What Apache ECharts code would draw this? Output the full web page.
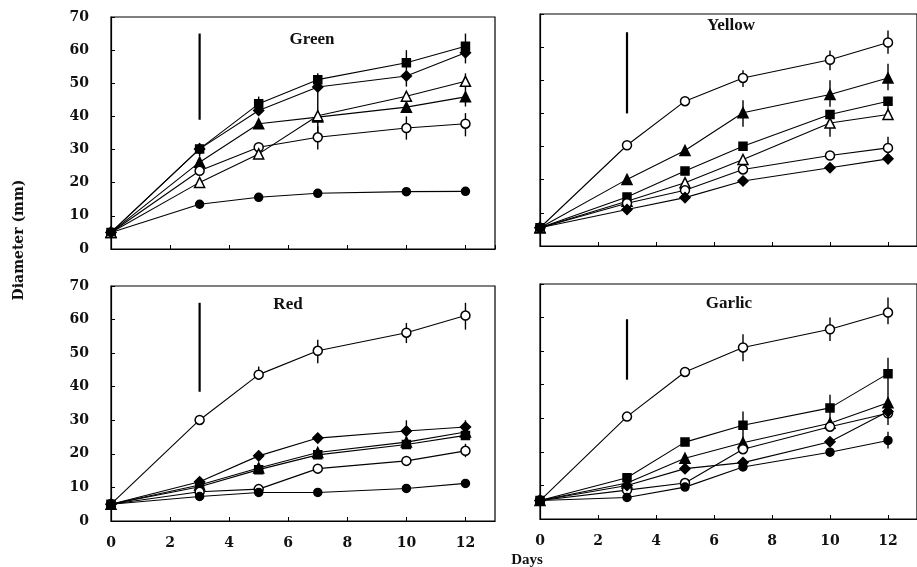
<!DOCTYPE html>
<html><head><meta charset="utf-8">
<script src="https://cdn.jsdelivr.net/npm/echarts@6/dist/echarts.min.js"></script>
<style>html,body{margin:0;padding:0;background:#fff}#c{width:917px;height:567px}</style>
</head><body><div id="c"></div>
<script>
// ---- data ----
const days = [0, 3, 5, 7, 10, 12];
const panelNames = ['Green', 'Yellow', 'Red', 'Garlic'];

const greenSquare       = [5, 30.2, 43.8, 51.1, 56.2, 61.2];
const greenDiamond      = [5, 30.2, 41.8, 48.9, 52.2, 59.2];
const greenFilledTri    = [5, 26.2, 37.8, 39.8, 42.8, 45.9];
const greenOpenCircle   = [5, 23.6, 30.7, 33.7, 36.5, 37.8];
const greenOpenTri      = [5, 20.1, 28.7, 40.2, 46.1, 50.6];
const greenFilledCircle = [5, 13.5, 15.6, 16.8, 17.3, 17.4];

const yellowOpenCircleTop = [5.5, 30.4, 43.7, 50.7, 56.2, 61.4];
const yellowFilledTri     = [5.5, 20.1, 28.8, 40.2, 45.7, 50.7];
const yellowSquare        = [5.5, 14.8, 22.6, 30.1, 39.7, 43.7];
const yellowOpenTri       = [5.5, 13.5, 19.1, 26.1, 37.1, 39.7];
const yellowOpenCircle    = [5.5, 12.9, 16.8, 23.1, 27.3, 29.6];
const yellowDiamond       = [5.5, 11.0, 14.6, 19.6, 23.6, 26.3];

const redOpenCircleTop = [5, 30.1, 43.6, 50.7, 56.1, 61.2];
const redDiamond       = [5, 11.7, 19.4, 24.7, 26.8, 28.0];
const redFilledTri     = [5, 10.7, 15.8, 20.4, 23.5, 26.5];
const redSquare        = [5, 10.2, 15.3, 19.7, 22.8, 25.5];
const redOpenCircle    = [5, 8.7, 9.5, 15.6, 17.9, 20.9];
const redFilledCircle  = [5, 7.3, 8.5, 8.5, 9.7, 11.2];

const garlicOpenCircleTop = [5.5, 30.5, 43.8, 51.1, 56.5, 61.5];
const garlicSquare        = [5.5, 12.3, 22.9, 27.9, 33.1, 43.3];
const garlicFilledTri     = [5.5, 10.7, 18.1, 22.7, 28.5, 34.6];
const garlicOpenCircle    = [5.5, 8.6, 10.7, 20.8, 27.5, 31.5];
const garlicDiamond       = [5.5, 10.0, 15.0, 16.8, 23.0, 32.0];
const garlicFilledCircle  = [5.5, 6.4, 9.5, 15.5, 19.9, 23.4];

// error bars: [day, low, high]
const greenErr  = [[3,28,32],[5,41,46],[7,35,53],[7,30,37],[10,49,60],[10,33,40],[12,56,65],[12,43,53],[12,34,41]];
const yellowErr = [[7,48,53],[10,53,59],[12,58,65],[7,36,44],[10,42,50],[12,47,55],[10,33,41],[12,38,45],[12,28,33]];
const redErr    = [[5,42,46],[7,47,54],[10,53,59],[12,57,65],[10,24,30],[12,25,30],[12,19,23]];
const garlicErr = [[7,47,55],[10,53,60],[12,58,66],[7,24,32],[10,29,37],[12,34,48],[12,28,35],[12,21,26]];

// treatment marker bars at day 3: [day, low, high]
const greenBar  = [[3, 39, 65]];
const yellowBar = [[3, 40, 64.5]];
const redBar    = [[3, 38.5, 65]];
const garlicBar = [[3, 41.5, 59.5]];

const yTicks = [0, 10, 20, 30, 40, 50, 60, 70];
const xTicks = [0, 2, 4, 6, 8, 10, 12];

// ---- styles ----
const MARK = {
  oc: {symbol: 'circle',   fill: '#fff', size: 9},
  fc: {symbol: 'circle',   fill: '#000', size: 8},
  ot: {symbol: 'triangle', fill: '#fff', size: 10},
  ft: {symbol: 'triangle', fill: '#000', size: 10},
  sq: {symbol: 'rect',     fill: '#000', size: 8},
  di: {symbol: 'diamond',  fill: '#000', size: 10}
};

const panels = [
  {series: [['sq', greenSquare], ['di', greenDiamond], ['ft', greenFilledTri], ['oc', greenOpenCircle], ['ot', greenOpenTri], ['fc', greenFilledCircle]], err: greenErr, bar: greenBar},
  {series: [['oc', yellowOpenCircleTop], ['ft', yellowFilledTri], ['sq', yellowSquare], ['ot', yellowOpenTri], ['oc', yellowOpenCircle], ['di', yellowDiamond]], err: yellowErr, bar: yellowBar},
  {series: [['oc', redOpenCircleTop], ['di', redDiamond], ['ft', redFilledTri], ['sq', redSquare], ['oc', redOpenCircle], ['fc', redFilledCircle]], err: redErr, bar: redBar},
  {series: [['oc', garlicOpenCircleTop], ['sq', garlicSquare], ['ft', garlicFilledTri], ['oc', garlicOpenCircle], ['di', garlicDiamond], ['fc', garlicFilledCircle]], err: garlicErr, bar: garlicBar}
];

const gridPos = [
  {left: 111, top: 17,  width: 384, height: 232},
  {left: 540, top: 14,  width: 384, height: 232},
  {left: 111, top: 286, width: 384, height: 235},
  {left: 540, top: 284, width: 384, height: 235}
];
const titlePos = [[312, 40], [731, 26], [288, 305], [729, 304]];

const SERIF = 'Liberation Serif, Times New Roman, serif';
const TICKFONT = 'DejaVu Serif, serif';
const labelStyle = {color: '#111', fontFamily: TICKFONT, fontWeight: 'bold', fontSize: 14};

const grids = [], xAxes = [], yAxes = [], series = [], graphics = [];

function vbar(g, data, width) {
  return {
    type: 'custom', xAxisIndex: g, yAxisIndex: g, data: data, z: 1, silent: true,
    renderItem: function (params, api) {
      const p1 = api.coord([api.value(0), api.value(1)]);
      const p2 = api.coord([api.value(0), api.value(2)]);
      return {type: 'line', shape: {x1: p1[0], y1: p1[1], x2: p2[0], y2: p2[1]},
              style: {stroke: '#000', lineWidth: width}};
    }
  };
}

panels.forEach((p, g) => {
  grids.push(Object.assign({show: true, borderColor: '#000', borderWidth: 1.2, containLabel: false}, gridPos[g]));
  const bottom = g >= 2, left = g % 2 === 0;
  xAxes.push({
    gridIndex: g, type: 'value', min: 0, max: 13, interval: 2,
    axisLine: {show: true, lineStyle: {color: '#000', width: 1.2}},
    axisTick: {show: true, inside: true, length: 4, lineStyle: {color: '#000'}},
    axisLabel: Object.assign({show: bottom, margin: 15, showMaxLabel: false,
      formatter: v => (xTicks.indexOf(v) >= 0 ? String(v) : '')}, labelStyle),
    splitLine: {show: false}
  });
  yAxes.push({
    gridIndex: g, type: 'value', min: 0, max: 70, interval: 10,
    axisLine: {show: true, lineStyle: {color: '#000', width: 1.2}},
    axisTick: {show: true, inside: true, length: 4, lineStyle: {color: '#000'}},
    axisLabel: Object.assign({show: left, margin: 22,
      formatter: v => (yTicks.indexOf(v) >= 0 ? String(v) : '')}, labelStyle),
    splitLine: {show: false}
  });
  p.series.forEach(([key, vals]) => {
    const m = MARK[key];
    series.push({
      type: 'line', xAxisIndex: g, yAxisIndex: g,
      data: days.map((d, i) => [d, vals[i]]),
      symbol: m.symbol, symbolSize: m.size, showAllSymbol: true,
      itemStyle: {color: m.fill, borderColor: '#000', borderWidth: 1.5},
      lineStyle: {color: '#000', width: 1.1},
      z: 3, silent: true, animation: false
    });
  });
  series.push(vbar(g, p.err, 1.4));
  series.push(vbar(g, p.bar, 2.2));
  graphics.push({type: 'text', x: titlePos[g][0], y: titlePos[g][1],
    style: {text: panelNames[g], fill: '#111', font: 'bold 17px ' + SERIF, textAlign: 'center', textVerticalAlign: 'middle'}});
});

graphics.push({type: 'text', x: 19, y: 240, rotation: Math.PI / 2,
  style: {text: 'Diameter (mm)', fill: '#111', font: 'bold 14px ' + TICKFONT, textAlign: 'center', textVerticalAlign: 'middle'}});
graphics.push({type: 'text', x: 527, y: 560,
  style: {text: 'Days', fill: '#111', font: 'bold 15px ' + SERIF, textAlign: 'center', textVerticalAlign: 'middle'}});

const chart = echarts.init(document.getElementById('c'), null, {renderer: 'canvas'});
chart.setOption({
  animation: false,
  backgroundColor: '#fff',
  grid: grids, xAxis: xAxes, yAxis: yAxes, series: series,
  graphic: graphics
});
</script></body></html>
